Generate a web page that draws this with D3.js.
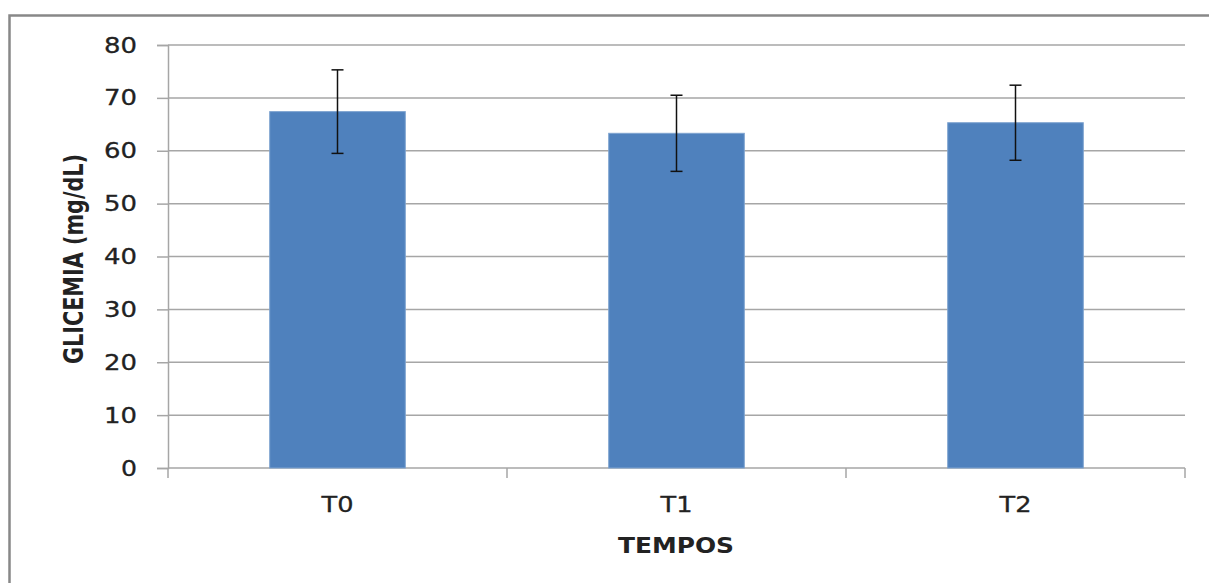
<!DOCTYPE html>
<html>
<head>
<meta charset="utf-8">
<script src="https://cdn.jsdelivr.net/npm/d3@7"></script>
<style>
  html, body { margin: 0; padding: 0; background: #fff; }
  svg { display: block; }
  text { font-family: "DejaVu Sans", Verdana, sans-serif; fill: #222; }
</style>
</head>
<body>
<svg id="chart" width="1209" height="583"></svg>
<script>
const categories = ["T0", "T1", "T2"];
const means = [67.4, 63.3, 65.3];
const errors = [7.9, 7.2, 7.1];
const yTicks = [0, 10, 20, 30, 40, 50, 60, 70, 80];
const yTitle = "GLICEMIA (mg/dL)";
const xTitle = "TEMPOS";

const svg = d3.select("#chart");
const W = 1209, H = 583;
const plot = { left: 168, right: 1185, top: 45, bottom: 468 };

svg.append("rect").attr("width", W).attr("height", H).attr("fill", "#fff");
// outer frame
svg.append("rect")
  .attr("x", 9.5).attr("y", 15.5)
  .attr("width", W + 20).attr("height", H + 20)
  .attr("fill", "none").attr("stroke", "#888").attr("stroke-width", 2.5);

const y = d3.scaleLinear().domain([0, 80]).range([plot.bottom, plot.top]);
const x = d3.scaleBand().domain(categories)
  .range([plot.left, plot.right]).paddingInner(0.6).paddingOuter(0.3);

// gridlines
svg.append("g").selectAll("line").data(yTicks.filter(d => d > 0)).join("line")
  .attr("x1", plot.left).attr("x2", plot.right)
  .attr("y1", d => y(d)).attr("y2", d => y(d))
  .attr("stroke", "#a6a6a6").attr("stroke-width", 1.5);

// y axis
const yAxis = svg.append("g").attr("transform", `translate(${plot.left},0)`)
  .call(d3.axisLeft(y).tickValues(yTicks).tickSize(11).tickPadding(20));
yAxis.select(".domain").attr("stroke", "#a6a6a6").attr("stroke-width", 1.5);
yAxis.selectAll(".tick line").attr("stroke", "#a6a6a6").attr("stroke-width", 1.5);
yAxis.selectAll(".tick text")
  .attr("font-size", 22).attr("font-family", "DejaVu Sans").attr("fill", "#222")
  .attr("stroke", "#222").attr("stroke-width", 0.3)
  .each(function(d) {
    const t = String(d);
    d3.select(this).attr("textLength", t.length === 1 ? 16 : 33).attr("lengthAdjust", "spacingAndGlyphs");
  });

// x axis
const xAxisG = svg.append("g");
xAxisG.append("line")
  .attr("x1", plot.left).attr("x2", plot.right)
  .attr("y1", plot.bottom).attr("y2", plot.bottom)
  .attr("stroke", "#a6a6a6").attr("stroke-width", 1.5);
const boundaries = d3.range(categories.length + 1).map(i => plot.left + i * x.step());
xAxisG.selectAll("line.tk").data(boundaries).join("line").attr("class", "tk")
  .attr("x1", d => d).attr("x2", d => d)
  .attr("y1", plot.bottom).attr("y2", plot.bottom + 10)
  .attr("stroke", "#a6a6a6").attr("stroke-width", 1.5);
xAxisG.selectAll("text").data(categories).join("text")
  .attr("x", d => x(d) + x.bandwidth() / 2)
  .attr("y", 512)
  .attr("text-anchor", "middle")
  .attr("font-size", 22)
  .attr("stroke", "#222").attr("stroke-width", 0.3)
  .attr("textLength", 32).attr("lengthAdjust", "spacingAndGlyphs")
  .text(d => d);

// bars
svg.append("g").selectAll("rect").data(categories).join("rect")
  .attr("x", d => x(d)).attr("width", x.bandwidth())
  .attr("y", (d, i) => y(means[i]))
  .attr("height", (d, i) => y(0) - y(means[i]))
  .attr("fill", "#4f81bd")
  .attr("stroke", "#7ea3d0").attr("stroke-width", 1);

// error bars
const eb = svg.append("g").attr("stroke", "#111").attr("stroke-width", 1.5);
categories.forEach((c, i) => {
  const cx = x(c) + x.bandwidth() / 2;
  const top = y(means[i] + errors[i]), bot = y(means[i] - errors[i]);
  eb.append("line").attr("x1", cx).attr("x2", cx).attr("y1", top).attr("y2", bot);
  eb.append("line").attr("x1", cx - 6).attr("x2", cx + 6).attr("y1", top).attr("y2", top);
  eb.append("line").attr("x1", cx - 6).attr("x2", cx + 6).attr("y1", bot).attr("y2", bot);
});

// axis titles
svg.append("text")
  .attr("x", 676).attr("y", 553)
  .attr("text-anchor", "middle").attr("font-size", 22).attr("font-weight", "bold")
  .attr("textLength", 116).attr("lengthAdjust", "spacingAndGlyphs")
  .attr("fill", "#111")
  .text(xTitle);

svg.append("text")
  .attr("transform", "translate(83,259) scale(1.3,1) rotate(-90)")
  .attr("text-anchor", "middle").attr("font-size", 21).attr("font-weight", "bold")
  .attr("textLength", 210).attr("lengthAdjust", "spacingAndGlyphs")
  .attr("fill", "#111")
  .text(yTitle);
</script>
</body>
</html>
